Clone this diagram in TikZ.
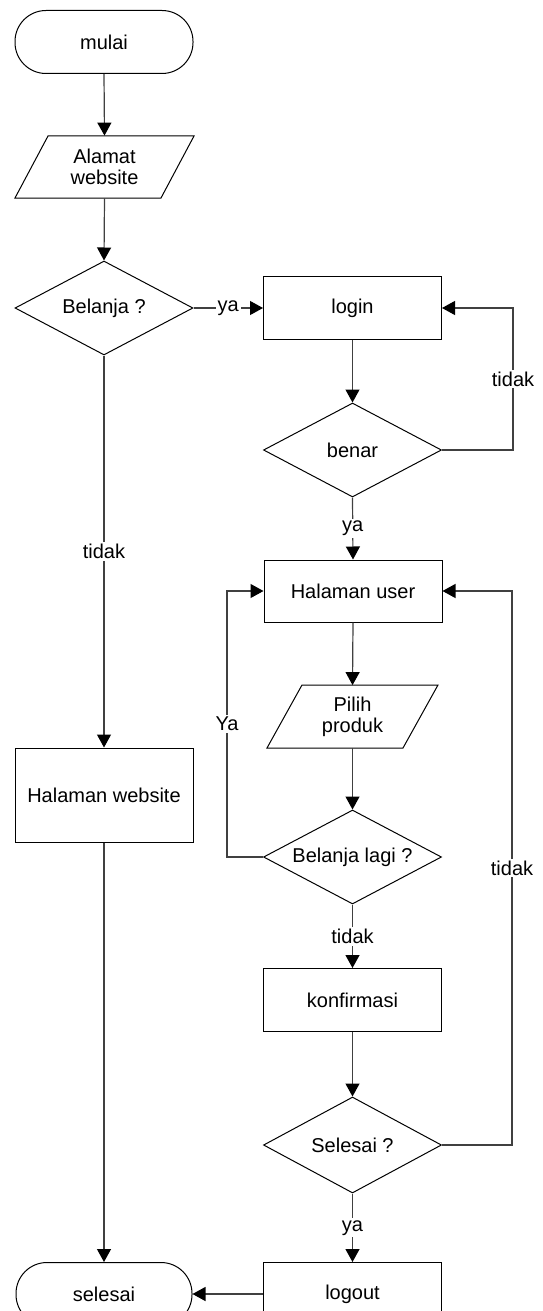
\documentclass[tikz,border=0pt]{standalone}
\usepackage{fontspec}
\setmainfont{Liberation Sans}
\usetikzlibrary{shapes.geometric,arrows.meta}
\begin{document}
\begin{tikzpicture}[x=0.5pt,y=-0.5pt,
 every node/.style={font=\fontsize{10}{10.5}\selectfont},
 line/.style={draw=black!75, line width=0.6pt},
 arr/.style={line, -{Triangle[length=6.5pt,width=7pt,fill=black,color=black]}},
 proc/.style={draw, line width=0.5pt, rectangle, minimum width=89pt, minimum height=31.5pt, inner sep=0pt, align=center},
 term/.style={proc, rounded corners=15.5pt},
 dec/.style={draw, diamond, aspect=2, line width=0.5pt, minimum width=89pt, minimum height=47pt, inner sep=0pt},
 io/.style={rectangle, minimum width=89pt, minimum height=31pt, inner sep=0pt, align=center},
 lbl/.style={fill=white, inner sep=1pt}
]
\clip (0,0) rectangle (542,1311);
\fill[white] (0,0) rectangle (542,1311);

% left column
\node[term] (mulai) at (104,42) {mulai};
\node[io] (alamat) at (104.5,167) {Alamat\\website};
\draw[line width=0.5pt] (15,198) -- (48,136) -- (194,136) -- (161,198) -- cycle;
\node[dec] (belanja) at (104,308) {Belanja ?};
\node[proc, minimum height=47pt] (halweb) at (104,795) {Halaman website};
\node[term, minimum width=88pt] (selesai) at (104,1294) {selesai};

% right column
\node[proc] (login) at (352.5,308) {login};
\node[dec] (benar) at (352.5,450) {benar};
\node[proc, minimum height=31pt] (user) at (353,591) {Halaman user};
\node[io] (pilih) at (352.5,716.5) {Pilih\\produk};
\draw[line width=0.5pt] (267,748) -- (302,685) -- (438,685) -- (403,748) -- cycle;
\node[dec] (lagi) at (352.5,857) {Belanja lagi ?};
\node[proc] (konf) at (352.5,1000) {konfirmasi};
\node[dec, minimum height=48pt] (selq) at (352.5,1145) {Selesai ?};
\node[proc] (logout) at (352.5,1294) {logout};

% loop corners
\coordinate (b1) at (513,450);
\coordinate (b2) at (513,308);
\coordinate (y1) at (227,857);
\coordinate (y2) at (227,591);
\coordinate (s1) at (512,1145);
\coordinate (s2) at (512,591);

% connectors
\draw[arr] (mulai.south) -- (alamat.north);
\draw[arr] (alamat.south) -- (belanja.north);
\draw[arr] (belanja.east) -- node[lbl] (lya1) {ya} (login.west);
\draw[arr] (belanja.south) -- node[lbl] (ltd1) {tidak} (halweb.north);
\draw[arr] (halweb.south) -- (selesai.north);
\draw[arr] (login.south) -- (benar.north);
\draw[arr] (benar.east) -- (b1) -- node[lbl] (ltd2) {tidak} (b2) -- (login.east);
\draw[arr] (benar.south) -- node[lbl] (lya2) {ya} (user.north);
\draw[arr] (user.south) -- (pilih.north);
\draw[arr] (pilih.south) -- (lagi.north);
\draw[arr] (lagi.west) -- (y1) -- node[lbl] (lya3) {Ya} (y2) -- (user.west);
\draw[arr] (lagi.south) -- node[lbl] (ltd3) {tidak} (konf.north);
\draw[arr] (konf.south) -- (selq.north);
\draw[arr] (selq.east) -- (s1) -- node[lbl] (ltd4) {tidak} (s2) -- (user.east);
\draw[arr] (selq.south) -- node[lbl] (lya4) {ya} (logout.north);
\draw[arr] (logout.west) -- (selesai.east);
\end{tikzpicture}
\end{document}
